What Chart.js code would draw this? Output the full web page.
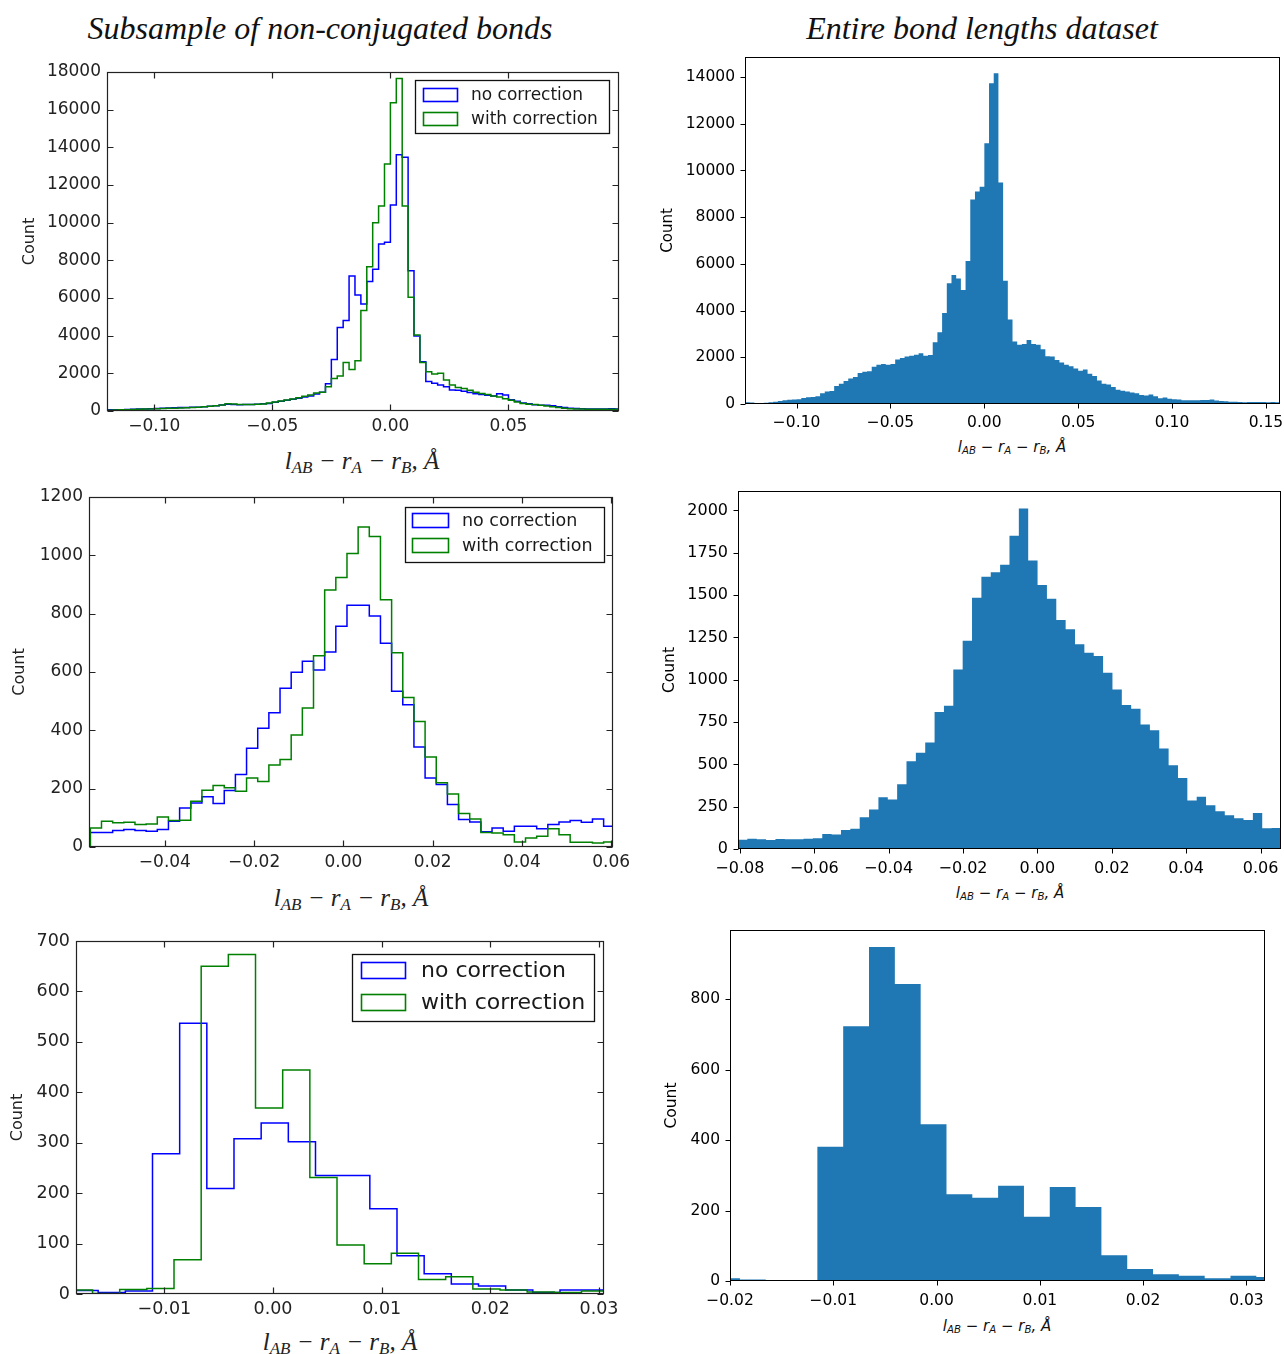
<!DOCTYPE html>
<html><head><meta charset="utf-8">
<script src="https://cdn.jsdelivr.net/npm/chart.js@4.4.1/dist/chart.umd.min.js"></script>
<style>
html,body{margin:0;padding:0;background:#fff;}
body{width:1284px;height:1354px;overflow:hidden;position:relative;}
canvas{position:absolute;}
.t{position:absolute;white-space:nowrap;transform:translate(-50%,-50%);line-height:1;}
.col{font-family:"Liberation Serif",serif;font-style:italic;font-size:32px;color:#111;}
.xs{font-family:"Liberation Serif",serif;font-style:italic;font-size:25px;color:#222;}
.xr{font-family:"DejaVu Sans",sans-serif;font-style:italic;font-size:15px;color:#111;}
.t sub{font-size:0.68em;vertical-align:-0.28em;line-height:0;}
</style></head><body>
<div class="t col" style="left:320px;top:28px">Subsample of non-conjugated bonds</div>
<div class="t col" style="left:982px;top:28px">Entire bond lengths dataset</div>
<div class="t xs" style="left:362px;top:460px"><i>l</i><sub>AB</sub> − <i>r</i><sub>A</sub> − <i>r</i><sub>B</sub>, <i>Å</i></div>
<div class="t xs" style="left:351px;top:897px"><i>l</i><sub>AB</sub> − <i>r</i><sub>A</sub> − <i>r</i><sub>B</sub>, <i>Å</i></div>
<div class="t xs" style="left:340px;top:1341px"><i>l</i><sub>AB</sub> − <i>r</i><sub>A</sub> − <i>r</i><sub>B</sub>, <i>Å</i></div>
<div class="t xr" style="left:1012px;top:447px"><i>l</i><sub>AB</sub> − <i>r</i><sub>A</sub> − <i>r</i><sub>B</sub>, <i>Å</i></div>
<div class="t xr" style="left:1010px;top:893px"><i>l</i><sub>AB</sub> − <i>r</i><sub>A</sub> − <i>r</i><sub>B</sub>, <i>Å</i></div>
<div class="t xr" style="left:997px;top:1326px"><i>l</i><sub>AB</sub> − <i>r</i><sub>A</sub> − <i>r</i><sub>B</sub>, <i>Å</i></div>
<script>
// ---------------- DATA ----------------
const seriesLabels = ['no correction', 'with correction'];
const yTitle = 'Count';

// Panel 1 (top-left): subsample, bins start / width
const p1BinStart = -0.12, p1BinWidth = 0.0025;
const p1NoCorr = [60,60,70,80,90,100,110,120,130,140, 160,170,180,190,200,200,220,250,280,320,
  360,340,330,350,350,360,380,400,470,520, 570,620,680,750,800,900,1000,1450,2740,4430,
  4800,7170,6160,5680,6870,7520,8870,8960,10940,13600, 13470,7450,3980,2620,1560,1470,1380,1290,1120,1100,
  1050,980,920,880,840,800,920,850,600,520, 420,380,330,310,300,280,230,190,150,130,
  120,110,110,100,110,120,110];
const p1WithCorr = [40,50,60,70,80,90,100,110,120,130, 140,150,160,170,180,200,220,250,280,320,
  380,370,340,340,350,360,370,420,480,530, 580,640,700,780,850,950,1000,1290,1730,1860,
  2570,2210,2670,5330,7660,10000,10890,13120,16370,17660, 10890,6040,4040,2570,2090,1960,2000,1650,1380,1250,
  1190,1100,1000,930,870,800,740,650,570,480, 400,360,340,300,270,230,180,150,120,110,
  100,90,90,90,90,90,90];
const p1XTicks = [-0.10, -0.05, 0.00, 0.05];
const p1YTicks = [0,2000,4000,6000,8000,10000,12000,14000,16000,18000];

// Panel 2 (top-right): entire dataset
const p2BinStart = -0.1275, p2BinWidth = 0.0025;
const p2Counts = [70,60,40,40,50,70,100,130,160,180, 190,200,260,290,300,330,460,540,560,770,
  870,990,1090,1160,1330,1380,1400,1600,1680,1710, 1680,1710,1910,1970,2030,2070,2110,2170,2070,2100,
  2640,3070,3900,5170,5520,5370,4880,6120,8760,9100, 9300,11170,13740,14160,9490,5280,3620,2680,2540,2570,
  2740,2570,2540,2340,2050,2030,1880,1780,1680,1620, 1520,1420,1480,1300,1200,1010,870,830,730,610,
  570,540,490,460,390,360,410,330,250,280, 230,200,190,160,160,160,160,170,170,190,
  150,130,120,100,100,90,70,90,90,90, 90,70,90,70];
const p2XTicks = [-0.10, -0.05, 0.00, 0.05, 0.10, 0.15];
const p2YTicks = [0,2000,4000,6000,8000,10000,12000,14000];

// Panel 3 (middle-left)
const p3BinStart = -0.0567, p3BinWidth = 0.0025;
const p3NoCorr = [50,50,57,60,57,54,60,88,134,151, 172,149,194,249,339,407,460,544,599,637,
  607,669,757,829,829,792,699,534,488,343, 237,214,146,94,86,52,65,54,71,71,
  63,77,86,91,85,96,71];
const p3WithCorr = [65,88,83,85,77,79,103,91,92,157, 195,211,203,191,237,225,281,300,384,477,
  656,881,924,1006,1097,1065,848,666,513,430, 309,220,182,115,96,50,48,42,17,31,
  37,63,42,16,16,14,17];
const p3XTicks = [-0.04, -0.02, 0.00, 0.02, 0.04, 0.06];
const p3YTicks = [0,200,400,600,800,1000,1200];

// Panel 4 (middle-right)
const p4BinStart = -0.0805, p4BinWidth = 0.002517;
const p4Counts = [55,61,57,53,59,57,57,61,63,89, 85,112,120,187,233,306,292,383,519,568,
  629,810,846,1061,1231,1485,1609,1635,1680,1850, 2011,1704,1560,1479,1353,1298,1209,1160,1140,1041,
  943,850,828,736,702,594,495,420,286,308, 258,223,199,181,172,213,122,124];
const p4XTicks = [-0.08, -0.06, -0.04, -0.02, 0.00, 0.02, 0.04, 0.06];
const p4YTicks = [0,250,500,750,1000,1250,1500,1750,2000];

// Panel 5 (bottom-left): each series has its own bins
const p5NoCorrStart = -0.01859, p5WithCorrStart = -0.01911, p5BinWidth = 0.0025;
const p5NoCorr = [7,3,6,278,537,209,308,339,302,235, 235,169,76,40,20,16,8,3,8,8];
const p5WithCorr = [8,1,9,11,68,650,673,369,444,231, 97,60,81,29,34,10,8,4,3,6];
const p5XTicks = [-0.01, 0.00, 0.01, 0.02, 0.03];
const p5YTicks = [0,100,200,300,400,500,600,700];

// Panel 6 (bottom-right)
const p6BinStart = -0.02154, p6BinWidth = 0.0025;
const p6Counts = [8,4,1,2,381,723,948,843,445,246, 236,270,182,267,210,73,34,19,15,8, 15,11];
const p6XTicks = [-0.02, -0.01, 0.00, 0.01, 0.02, 0.03];
const p6YTicks = [0,200,400,600,800];

// ---------------- HELPERS ----------------
function outline(start, width, counts){
  const pts = [{x:start, y:0}];
  counts.forEach((c,i)=>{
    const e0 = start + i*width, e1 = start + (i+1)*width;
    pts.push({x:e0, y:c}, {x:e1, y:c});
  });
  pts.push({x:start + counts.length*width, y:0});
  return pts;
}
const fmtX = v => (v < -1e-12 ? '\u2212' : '') + Math.abs(v).toFixed(2);
const fmtY = v => String(v);

const framePlugin = {
  id:'frame',
  afterDatasetsDraw(chart, args, o){
    const {ctx, chartArea:a, scales} = chart;
    const x = scales.x, y = scales.y;
    ctx.save();
    ctx.strokeStyle = o.color; ctx.lineWidth = o.width;
    const L = Math.round(a.left)+0.5, R = Math.round(a.right)-0.5, T = Math.round(a.top)+0.5, B = Math.round(a.bottom)-0.5;
    ctx.strokeRect(L, T, R-L, B-T);
    const n = o.tickLen;
    ctx.beginPath();
    x.ticks.forEach(t=>{
      const px = Math.round(x.getPixelForValue(t.value))+0.5;
      if (o.inward){ ctx.moveTo(px,B); ctx.lineTo(px,B-n); ctx.moveTo(px,T); ctx.lineTo(px,T+n); }
      else { ctx.moveTo(px,B); ctx.lineTo(px,B+n); }
    });
    y.ticks.forEach(t=>{
      const py = Math.round(y.getPixelForValue(t.value))+0.5;
      if (o.inward){ ctx.moveTo(L,py); ctx.lineTo(L+n,py); ctx.moveTo(R,py); ctx.lineTo(R-n,py); }
      else { ctx.moveTo(L,py); ctx.lineTo(L-n,py); }
    });
    ctx.stroke();
    ctx.restore();
  }
};
const boxLegend = {
  id:'boxLegend',
  afterDraw(chart, args, o){
    if (!o || !o.show) return;
    const {ctx, chartArea:a} = chart;
    const bx = Math.round(a.left+o.box[0])+0.5, by = Math.round(a.top+o.box[1])+0.5;
    ctx.save();
    ctx.fillStyle = '#fff'; ctx.fillRect(bx, by, o.box[2], o.box[3]);
    ctx.strokeStyle = '#111'; ctx.lineWidth = 1.3; ctx.strokeRect(bx, by, o.box[2], o.box[3]);
    ctx.font = o.fontSize + 'px "DejaVu Sans"'; ctx.textBaseline = 'middle'; ctx.textAlign = 'left';
    chart.data.datasets.forEach((ds,i)=>{
      const cy = a.top + o.rows[i];
      ctx.strokeStyle = ds.borderColor; ctx.lineWidth = 1.6;
      ctx.strokeRect(Math.round(a.left+o.patchX)+0.5, Math.round(cy - o.patchH/2)+0.5, o.patchW, o.patchH);
      ctx.fillStyle = '#1a1a1a';
      ctx.fillText(ds.label, a.left+o.textX, cy+1);
    });
    ctx.restore();
  }
};

const ML = 100, MT = 16, MR = 34, MB = 44;
function makePanel(p){
  const cv = document.createElement('canvas');
  const W = p.R - p.L + ML + MR, H = p.B - p.T + MT + MB;
  cv.width = W; cv.height = H;
  cv.style.width = W+'px'; cv.style.height = H+'px';
  cv.style.left = (p.L - ML)+'px'; cv.style.top = (p.T - MT)+'px';
  document.body.appendChild(cv);
  const lh = p.titleSize*1.2;
  const titlePad = p.titleX - (p.L - ML) - lh/2;
  new Chart(cv, {
    type:'line',
    data:{datasets:p.datasets},
    plugins:[framePlugin, boxLegend],
    options:{
      responsive:false, animation:false, devicePixelRatio:1,
      layout:{padding:{left:0, top:MT, right:MR, bottom:0}},
      elements:{point:{radius:0, hoverRadius:0}, line:{tension:0}},
      events:[],
      plugins:{
        legend:{display:false}, tooltip:{enabled:false},
        frame:{color:p.frameColor, width:p.frameWidth, tickLen:p.tickLen, inward:p.inward},
        boxLegend:p.legend || {show:false}
      },
      scales:{
        x:{type:'linear', min:p.xmin, max:p.xmax,
          afterBuildTicks:s=>{ s.ticks = p.xTicks.map(v=>({value:v})); },
          afterFit:s=>{ s.height = MB; s.paddingLeft = 0; s.paddingRight = 0; },
          grid:{display:false, drawTicks:false, tickLength:0}, border:{display:false},
          ticks:{autoSkip:false, maxRotation:0, minRotation:0, padding:p.xPad, color:p.tickColor,
            font:{family:'DejaVu Sans', size:p.fontSize}, callback:v=>fmtX(v)}
        },
        y:{type:'linear', min:0, max:p.ymax,
          afterBuildTicks:s=>{ s.ticks = p.yTicks.map(v=>({value:v})); },
          afterFit:s=>{ s.width = ML; s.paddingTop = 0; s.paddingBottom = 0; },
          grid:{display:false, drawTicks:false, tickLength:0}, border:{display:false},
          ticks:{autoSkip:false, padding:p.yPad, color:p.tickColor,
            font:{family:'DejaVu Sans', size:p.fontSize}, callback:v=>fmtY(v)},
          title:{display:true, text:yTitle, color:p.tickColor,
            font:{family:'DejaVu Sans', size:p.titleSize}, padding:{top:titlePad, bottom:0}}
        }
      }
    }
  });
}

const BLUE = '#0000ff', GREEN = '#008000', FILL = '#1f77b4';
function stepSets(s1, w1, a1, s2, w2, a2){
  return [
    {label:seriesLabels[0], data:outline(s1,w1,a1), borderColor:BLUE, borderWidth:1.5, fill:false, order:1},
    {label:seriesLabels[1], data:outline(s2,w2,a2), borderColor:GREEN, borderWidth:1.5, fill:false, order:0}
  ];
}
function fillSet(s, w, a){
  return [{label:yTitle, data:outline(s,w,a), borderColor:FILL, borderWidth:0, backgroundColor:FILL, fill:'origin'}];
}

const oldStyle = {frameColor:'#222', frameWidth:1.2, tickLen:6, inward:true, tickColor:'#222'};
const newStyle = {frameColor:'#000', frameWidth:1, tickLen:5, inward:false, tickColor:'#000'};

makePanel(Object.assign({}, oldStyle, {
  L:107, T:72, R:619, B:411, xmin:-0.12, xmax:0.0968, ymax:18000,
  xTicks:p1XTicks, yTicks:p1YTicks, fontSize:17, titleSize:16, titleX:30, xPad:5, yPad:6,
  datasets:stepSets(p1BinStart,p1BinWidth,p1NoCorr, p1BinStart,p1BinWidth,p1WithCorr),
  legend:{show:true, box:[308,8,194,53], patchX:316, patchW:34, patchH:13, rows:[22.5,46.5], textX:364, fontSize:17}
}));
makePanel(Object.assign({}, newStyle, {
  L:745, T:57, R:1280, B:404, xmin:-0.1275, xmax:0.1575, ymax:14860,
  xTicks:p2XTicks, yTicks:p2YTicks, fontSize:15.5, titleSize:15, titleX:668, xPad:10, yPad:10,
  datasets:fillSet(p2BinStart,p2BinWidth,p2Counts)
}));
makePanel(Object.assign({}, oldStyle, {
  L:89, T:497, R:613, B:847, xmin:-0.057, xmax:0.0604, ymax:1200,
  xTicks:p3XTicks, yTicks:p3YTicks, fontSize:17, titleSize:16, titleX:20, xPad:5, yPad:6,
  datasets:stepSets(p3BinStart,p3BinWidth,p3NoCorr, p3BinStart,p3BinWidth,p3WithCorr),
  legend:{show:true, box:[316,10,199,55], patchX:323, patchW:36, patchH:14, rows:[23,48], textX:373, fontSize:17.5}
}));
makePanel(Object.assign({}, newStyle, {
  L:738, T:491, R:1281, B:849, xmin:-0.0805, xmax:0.0655, ymax:2115,
  xTicks:p4XTicks, yTicks:p4YTicks, fontSize:16, titleSize:15.5, titleX:670, xPad:10, yPad:10,
  datasets:fillSet(p4BinStart,p4BinWidth,p4Counts)
}));
makePanel(Object.assign({}, oldStyle, {
  L:76, T:941, R:604, B:1294, xmin:-0.01813, xmax:0.03046, ymax:700,
  xTicks:p5XTicks, yTicks:p5YTicks, fontSize:17.5, titleSize:16, titleX:18, xPad:5, yPad:6,
  datasets:stepSets(p5NoCorrStart,p5BinWidth,p5NoCorr, p5WithCorrStart,p5BinWidth,p5WithCorr),
  legend:{show:true, box:[276,13,242,67], patchX:285, patchW:44, patchH:16, rows:[29,61], textX:345, fontSize:22}
}));
makePanel(Object.assign({}, newStyle, {
  L:730, T:930, R:1265, B:1281, xmin:-0.02, xmax:0.0318, ymax:996,
  xTicks:p6XTicks, yTicks:p6YTicks, fontSize:15.5, titleSize:15.5, titleX:672, xPad:11, yPad:10,
  datasets:fillSet(p6BinStart,p6BinWidth,p6Counts)
}));
</script>
</body></html>
